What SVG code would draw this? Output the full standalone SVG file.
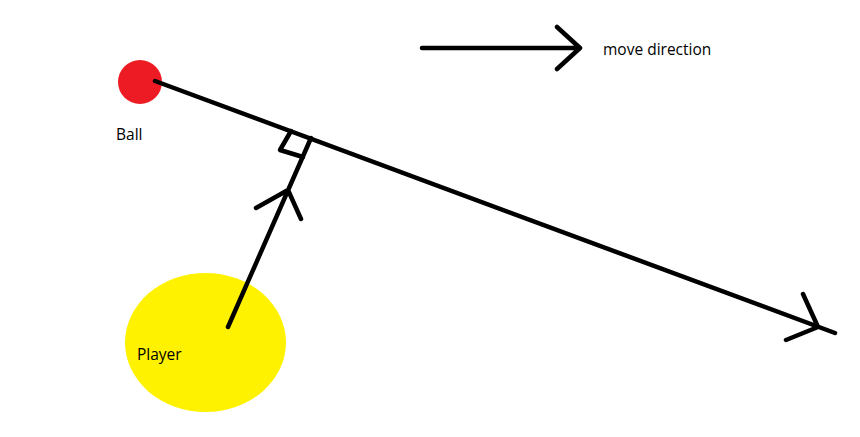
<svg xmlns="http://www.w3.org/2000/svg" width="860" height="437" viewBox="0 0 860 437">
<style>
.ln{stroke:#000;stroke-width:4.5;stroke-linecap:round;stroke-linejoin:round;fill:none}
.lbl{font-family:"Open Sans","Noto Sans",sans-serif;font-size:15.5px;fill:#000}
</style>
<rect width="860" height="437" fill="#fff"/>
<g id="ball">
<circle cx="140" cy="82" r="22" fill="#ed1c24"/>
<text class="lbl" x="116" y="140">Ball</text>
</g>
<g id="player">
<ellipse cx="205.5" cy="342.5" rx="80.5" ry="69.5" fill="#fff200"/>
<text class="lbl" x="137" y="360">Player</text>
</g>
<g id="legend">
<text class="lbl" x="603" y="55">move direction</text>
</g>
<g id="connectors">
<path class="ln" d="M422 48 L580 48 M557 27 L580 48 L557 69"/>
<path class="ln" d="M155 81 L835 333 M803 294 L818 327 L786 340"/>
<path class="ln" d="M228 327 L311 138 M256 208 L288 190 L301 219"/>
<path class="ln" d="M291 131 L280 150 L303 157"/>
</g>
</svg>
